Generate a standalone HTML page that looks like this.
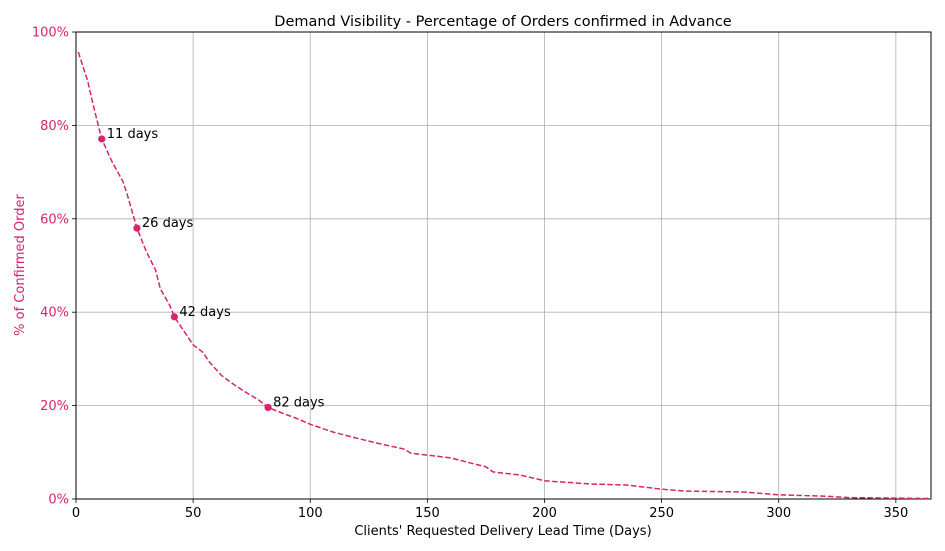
<!DOCTYPE html>
<html><head><meta charset="utf-8"><style>
body{margin:0;background:#fff;}
svg{display:block;font-family:"DejaVu Sans","Liberation Sans",sans-serif;}
</style></head><body>
<svg id="chart" width="945" height="551" viewBox="0 0 945 551">
<text x="503" y="26" text-anchor="middle" font-size="14.5" fill="#000">Demand Visibility - Percentage of Orders confirmed in Advance</text>
<g id="grid"></g>
<g id="axes"></g>
<g id="series"></g>
<text x="503" y="535" text-anchor="middle" font-size="13" fill="#000">Clients' Requested Delivery Lead Time (Days)</text>
<text transform="translate(24,265) rotate(-90)" text-anchor="middle" font-size="13" fill="#d6246e">% of Confirmed Order</text>
</svg>
<script>
const days = [1,5,8,11,15,20,22,26,30,34,36,40,42,46,50,54,57,62,66,72,78,82,88,95,100,110,120,130,140,143,150,160,170,175,178,190,200,220,235,250,260,285,300,320,330,365];
const pct = [95.7,89.5,83,77.1,72.6,68,65,58,53,49,45,41.5,39,36,33,31.5,29.3,26.5,25,23,21.2,19.6,18.4,17.1,16,14.3,13,11.8,10.7,9.8,9.4,8.8,7.5,6.9,5.8,5.1,3.9,3.2,3.0,2.1,1.7,1.5,0.9,0.6,0.3,0.1];
const markerDays = [11,26,42,82];
const markerPct = [77.1,58,39,19.6];
const xTicks = [0,50,100,150,200,250,300,350];
const yTicks = [0,20,40,60,80,100];
const X0=76,X1=931,Y0=499,Y1=32,XMAX=365;
const xs=d=>X0+(X1-X0)*d/XMAX, ys=p=>Y0-(Y0-Y1)*p/100;
const NS="http://www.w3.org/2000/svg";
function mk(tag,attrs,parent){const e=document.createElementNS(NS,tag);for(const k in attrs)e.setAttribute(k,attrs[k]);parent.appendChild(e);return e;}
const grid=document.getElementById('grid'),axes=document.getElementById('axes'),series=document.getElementById('series');
xTicks.forEach(t=>{
  const l=mk('line',{x1:xs(t),x2:xs(t),y1:Y1,y2:Y0,stroke:'#b0b0b0','stroke-width':0.8},grid);
  
  
  const tk=mk('line',{x1:xs(t),x2:xs(t),y1:Y0,y2:Y0+4,stroke:'#000','stroke-width':0.8},axes);
  
  
  const tx=mk('text',{x:xs(t),y:Y0+18,'text-anchor':'middle','font-size':13,fill:'#000'},axes);
  tx.textContent=t;
  
  
});
yTicks.forEach(t=>{
  const l=mk('line',{x1:X0,x2:X1,y1:ys(t),y2:ys(t),stroke:'#b0b0b0','stroke-width':0.8},grid);
  
  
  const tk=mk('line',{x1:X0-4,x2:X0,y1:ys(t),y2:ys(t),stroke:'#000','stroke-width':0.8},axes);
  
  
  const tx=mk('text',{x:X0-7,y:ys(t)+4.5,'text-anchor':'end','font-size':13,fill:'#d6246e'},axes);
  tx.textContent=t+'%';
  
  
});
const frame=mk('rect',{x:X0,y:Y1,width:X1-X0,height:Y0-Y1,fill:'none',stroke:'#000','stroke-width':1},axes);


const line=mk('polyline',{points:days.map((d,i)=>xs(d)+','+ys(pct[i])).join(' '),fill:'none',stroke:'#d6246e','stroke-width':1.5,'stroke-dasharray':'5.5,2.4'},series);


markerDays.forEach((d,i)=>{
  const c=mk('circle',{cx:xs(d),cy:ys(markerPct[i]),r:3.6,fill:'#d6246e'},series);
  
  
  const t=mk('text',{x:xs(d)+5,y:ys(markerPct[i])-1,'font-size':13,fill:'#000'},series);
  t.textContent=d+' days';
  
  
});
</script>
</body></html>
